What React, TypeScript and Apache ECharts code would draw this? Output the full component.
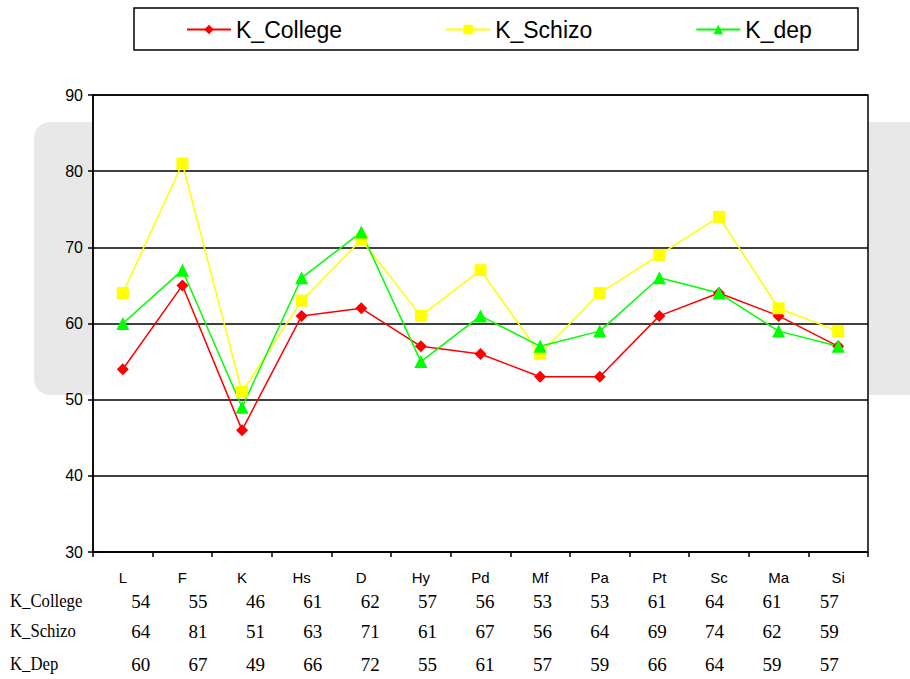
import React, { useEffect, useRef } from "react";
import * as echarts from "echarts";

// MMPI scale abbreviations along the x axis
const scales = ["L", "F", "K", "Hs", "D", "Hy", "Pd", "Mf", "Pa", "Pt", "Sc", "Ma", "Si"];

// Plotted profile values per group
const kCollege = [54, 65, 46, 61, 62, 57, 56, 53, 53, 61, 64, 61, 57];
const kSchizo = [64, 81, 51, 63, 71, 61, 67, 56, 64, 69, 74, 62, 59];
const kDep = [60, 67, 49, 66, 72, 55, 61, 57, 59, 66, 64, 59, 57];

// Values as printed in the data table under the chart
const tableCollege = [54, 55, 46, 61, 62, 57, 56, 53, 53, 61, 64, 61, 57];
const tableSchizo = kSchizo;
const tableDep = kDep;

const rowLabels = ["K_College", "K_Schizo", "K_Dep"];
const yTicks = { min: 30, max: 90, step: 10 };

const BLACK = "#000";
const SANS = "Arial, 'Liberation Sans', sans-serif";
const SERIF = "'Liberation Serif', 'Times New Roman', serif";

export default function App() {
  const ref = useRef<HTMLDivElement>(null);

  useEffect(() => {
    if (!ref.current) return;
    const chart = echarts.init(ref.current, null, { renderer: "svg" });

    const rowOffsets = [39, 69, 102];
    const rowCenters = [601, 631, 664];
    const tables = [tableCollege, tableSchizo, tableDep];

    const tableAxes = tables.map((vals, i) => ({
      type: "category",
      gridIndex: 1,
      position: "bottom",
      offset: rowOffsets[i],
      data: scales,
      boundaryGap: true,
      axisLine: { show: false },
      axisTick: { show: false },
      splitLine: { show: false },
      axisLabel: {
        interval: 0,
        margin: 0,
        color: BLACK,
        fontFamily: SERIF,
        fontSize: 19,
        lineHeight: 20,
        formatter: (_v: string, idx: number) => String(vals[idx]),
      },
    }));

    const makeSeries = (name: string, data: number[], color: string, symbol: string, size: number) => ({
      name,
      type: "line",
      xAxisIndex: 0,
      yAxisIndex: 0,
      data,
      symbol,
      symbolSize: size,
      itemStyle: { color },
      lineStyle: { color, width: 1.5 },
    });

    chart.setOption({
      animation: false,
      backgroundColor: "#fff",
      graphic: [
        {
          type: "rect",
          z: -10,
          shape: { x: 34, y: 122, width: 920, height: 273, r: 16 },
          style: { fill: "#e8e8e8" },
        },
        {
          type: "rect",
          shape: { x: 134, y: 8, width: 724, height: 42 },
          style: { fill: "none", stroke: BLACK, lineWidth: 1.5 },
        },
        ...rowLabels.map((t, i) => ({
          type: "text",
          x: 10,
          y: rowCenters[i],
          scaleX: 0.88,
          style: {
            text: t,
            fontFamily: SERIF,
            fontSize: 19,
            fill: BLACK,
            verticalAlign: "middle",
            align: "left",
          },
        })),
      ],
      legend: {
        left: 186,
        top: 18,
        padding: 0,
        itemWidth: 44,
        itemHeight: 12,
        itemGap: 103,
        textStyle: { fontFamily: SANS, fontSize: 23, color: BLACK },
        data: ["K_College", "K_Schizo", "K_dep"],
      },
      grid: [
        {
          left: 93,
          right: 42,
          top: 95,
          bottom: 127,
          show: true,
          backgroundColor: "#fff",
          borderColor: BLACK,
          borderWidth: 1.5,
        },
        { left: 112, right: 52, top: 95, bottom: 127, show: false },
      ],
      xAxis: [
        {
          type: "category",
          gridIndex: 0,
          data: scales,
          boundaryGap: true,
          axisLine: { lineStyle: { color: BLACK, width: 1.5 } },
          axisTick: { show: true, length: 5, lineStyle: { color: BLACK, width: 1.5 } },
          axisLabel: { interval: 0, margin: 18, color: BLACK, fontFamily: SANS, fontSize: 15 },
        },
        ...tableAxes,
      ],
      yAxis: [
        {
          type: "value",
          gridIndex: 0,
          min: yTicks.min,
          max: yTicks.max,
          interval: yTicks.step,
          axisLine: { show: true, lineStyle: { color: BLACK, width: 1.5 } },
          axisTick: { show: true, length: 5, lineStyle: { color: BLACK, width: 1.5 } },
          splitLine: { show: true, lineStyle: { color: BLACK, width: 1.5 } },
          axisLabel: { margin: 10, color: BLACK, fontFamily: SANS, fontSize: 16 },
        },
        {
          type: "value",
          gridIndex: 1,
          show: false,
        },
      ],
      series: [
        makeSeries("K_College", kCollege, "#ff0000", "diamond", 12),
        makeSeries("K_Schizo", kSchizo, "#ffff00", "rect", 12),
        makeSeries("K_dep", kDep, "#00ff00", "triangle", 13),
      ],
    });

    return () => chart.dispose();
  }, []);

  return <div ref={ref} style={{ width: 910, height: 679, position: "absolute", left: 0, top: 0 }} />;
}
